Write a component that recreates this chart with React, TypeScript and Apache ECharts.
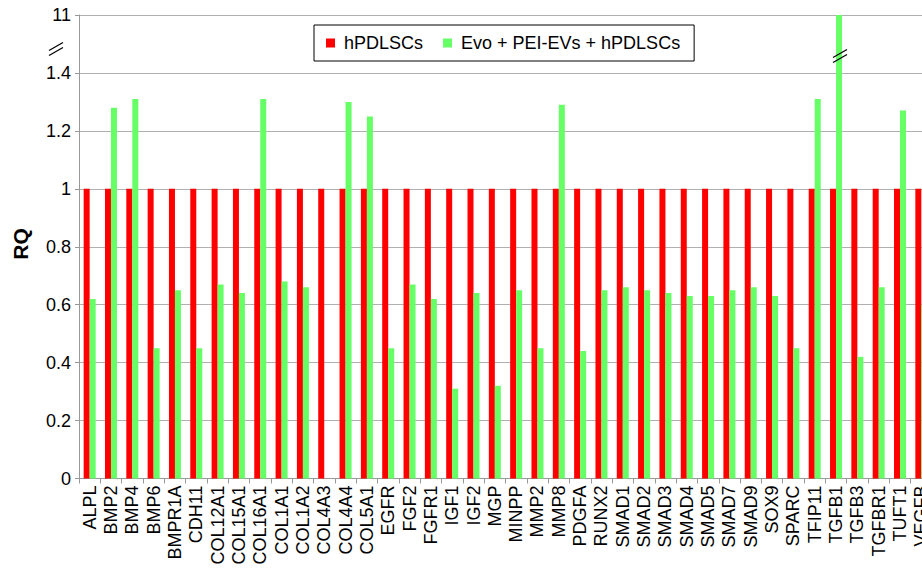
import React, { useEffect, useRef } from "react";
import * as echarts from "echarts";

const categories = [
  "ALPL", "BMP2", "BMP4", "BMP6", "BMPR1A", "CDH11", "COL12A1", "COL15A1", "COL16A1", "COL1A1",
  "COL1A2", "COL4A3", "COL4A4", "COL5A1", "EGFR", "FGF2", "FGFR1", "IGF1", "IGF2", "MGP",
  "MINPP", "MMP2", "MMP8", "PDGFA", "RUNX2", "SMAD1", "SMAD2", "SMAD3", "SMAD4", "SMAD5",
  "SMAD7", "SMAD9", "SOX9", "SPARC", "TFIP11", "TGFB1", "TGFB3", "TGFBR1", "TUFT1", "VEGFB",
];

const hPDLSCs = [
  1, 1, 1, 1, 1, 1, 1, 1, 1, 1,
  1, 1, 1, 1, 1, 1, 1, 1, 1, 1,
  1, 1, 1, 1, 1, 1, 1, 1, 1, 1,
  1, 1, 1, 1, 1, 1, 1, 1, 1, 1,
];

const evoPeiEvs = [
  0.62, 1.28, 1.31, 0.45, 0.65, 0.45, 0.67, 0.64, 1.31, 0.68,
  0.66, 0, 1.3, 1.25, 0.45, 0.67, 0.62, 0.31, 0.64, 0.32,
  0.65, 0.45, 1.29, 0.44, 0.65, 0.66, 0.65, 0.64, 0.63, 0.63,
  0.65, 0.66, 0.63, 0.45, 1.31, 11, 0.42, 0.66, 1.27, 0.6,
];

const seriesNames = ["hPDLSCs", "Evo + PEI-EVs + hPDLSCs"];
const seriesColors = ["#ff0000", "#66ff66"];

// broken axis: below BREAK_LOW linear; the band [BREAK_LOW, AXIS_TOP] shows BREAK_LOW..BREAK_HIGH
const BREAK_LOW = 1.4;
const BREAK_HIGH = 11;
const AXIS_TOP = 1.6;
const toAxis = (v: number) =>
  v <= BREAK_LOW ? v : BREAK_LOW + ((v - BREAK_LOW) * (AXIS_TOP - BREAK_LOW)) / (BREAK_HIGH - BREAK_LOW);

const FONT = "'Liberation Sans', Arial, sans-serif";

function breakMark(cx: number, cy: number) {
  const mk = (dy: number) => ({
    type: "line",
    shape: { x1: cx - 7, y1: cy + 4 + dy, x2: cx + 7, y2: cy - 4 + dy },
    style: { stroke: "#000", lineWidth: 1.3 },
    z: 100,
  });
  return [mk(-2.5), mk(2.5)];
}

export default function App() {
  const ref = useRef<HTMLDivElement>(null);
  useEffect(() => {
    if (!ref.current) return;
    const chart = echarts.init(ref.current, undefined, { renderer: "svg" });
    chart.setOption({
      animation: false,
      backgroundColor: "#ffffff",
      textStyle: { fontFamily: FONT },
      grid: { left: 79, right: 0, top: 15, bottom: 90.5, containLabel: false },
      legend: {
        data: seriesNames,
        left: 314,
        top: 25,
        padding: [9, 14, 9, 12],
        borderColor: "#000",
        borderWidth: 1,
        itemWidth: 9,
        itemHeight: 9,
        itemGap: 20,
        icon: "rect",
        textStyle: { fontSize: 18, color: "#000", fontFamily: FONT, padding: [0, 0, 0, 4] },
      },
      xAxis: {
        type: "category",
        data: categories,
        axisLine: { lineStyle: { color: "#999", width: 1 } },
        axisTick: { show: true, length: 5, alignWithLabel: false, lineStyle: { color: "#999" } },
        axisLabel: {
          interval: 0,
          rotate: 90,
          fontSize: 18,
          color: "#000",
          margin: 7,
          fontFamily: FONT,
        },
      },
      yAxis: {
        type: "value",
        min: 0,
        max: AXIS_TOP,
        interval: 0.2,
        axisLine: { show: true, lineStyle: { color: "#999", width: 1 } },
        axisTick: { show: true, length: 4, lineStyle: { color: "#999" } },
        splitLine: { show: true, lineStyle: { color: "#b0b0b0", width: 1 } },
        axisLabel: {
          fontSize: 18,
          color: "#000",
          margin: 8,
          fontFamily: FONT,
          formatter: (v: number) =>
            Math.abs(v - AXIS_TOP) < 1e-9 ? String(BREAK_HIGH) : String(+v.toFixed(1)),
        },
      },
      series: [
        {
          name: seriesNames[0],
          type: "bar",
          data: hPDLSCs.map(toAxis),
          barWidth: 6,
          barGap: "0%",
          itemStyle: { color: seriesColors[0] },
        },
        {
          name: seriesNames[1],
          type: "bar",
          data: evoPeiEvs.map(toAxis),
          barWidth: 6,
          barGap: "0%",
          itemStyle: { color: seriesColors[1] },
        },
      ],
      graphic: [
        {
          type: "text",
          x: 20,
          y: 244,
          rotation: Math.PI / 2,
          style: {
            text: "RQ",
            fontSize: 21,
            fontWeight: "bold",
            fill: "#000",
            fontFamily: FONT,
            align: "center",
            verticalAlign: "middle",
          },
        },
        ...breakMark(56, 49),
        ...breakMark(840, 56),
      ],
    });
    return () => chart.dispose();
  }, []);
  return (
    <div style={{ position: "fixed", left: 0, top: 0, width: 922, height: 569, overflow: "hidden", background: "#fff" }}>
      <div ref={ref} style={{ width: 932, height: 569 }} />
    </div>
  );
}
